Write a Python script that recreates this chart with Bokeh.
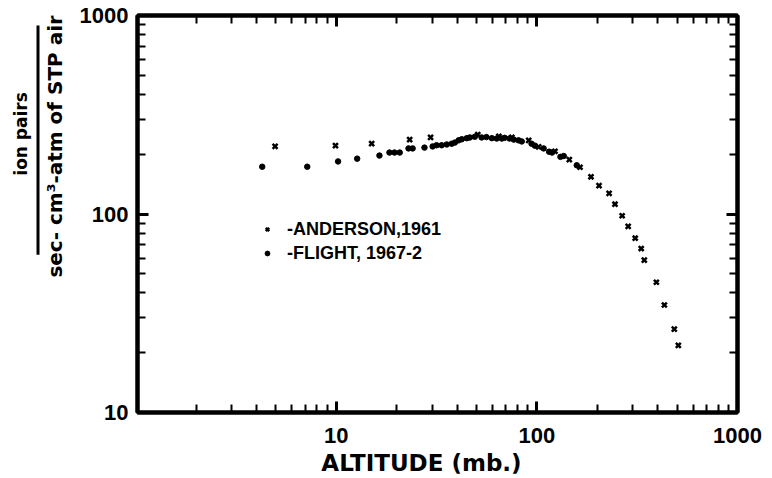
from bokeh.plotting import figure
from bokeh.layouts import row
from bokeh.models import (LogAxis, Label, BoxAnnotation, Legend, LegendItem,
                          FixedTicker, PrintfTickFormatter)
from bokeh.embed import file_html
from bokeh.resources import INLINE
import math

# ---- data ----
anderson_mb = [4.95, 9.9, 15.0, 23.2, 29.5, 50.7, 64.6, 75, 91, 102, 123, 145,
               164, 186, 204, 229, 245, 266, 285, 309, 331, 343, 394, 432, 484, 507]
anderson_rate = [219, 221, 226, 237, 243, 251, 246, 243, 235, 218, 207, 188,
                 172, 154, 139, 127, 112, 98, 86.6, 75.5, 67, 58.6, 45.3, 34.8, 26.3, 21.8]

flight_mb = [4.27, 7.16, 10.2, 12.7, 16.4, 18.4, 19.5, 20.7, 22.9, 24.0, 27.5, 30.2,
             31.6, 33.5, 35.5, 37.6, 39, 40.7, 42.2, 44.7, 46.3, 49, 53, 56, 59.6,
             63, 66.8, 69, 73, 76.7, 81, 84, 94, 97.7, 108, 115, 119, 131, 136, 158]
flight_rate = [173, 173, 184, 190, 197, 204, 204, 204, 214, 214, 216, 219,
               222, 222, 224, 226, 229, 235, 238, 241, 243, 245, 243, 244, 241,
               240, 240, 242, 240, 237, 235, 232, 226, 221, 214, 206, 204, 194, 196, 176]

x_lo, x_hi = 1.02, 1000
y_lo, y_hi = 10, 1000
x_major = [10, 100, 1000]
x_minor = [2, 3, 4, 5, 6, 7, 8, 9, 20, 30, 40, 50, 60, 70, 80, 90,
           200, 300, 400, 500, 600, 700, 800, 900]
y_major = [10, 100, 1000]
y_minor = [20, 30, 40, 50, 60, 70, 80, 90, 200, 300, 400, 500, 600, 700, 800, 900]

labels = ["-ANDERSON,1961", "-FLIGHT, 1967-2"]
x_title = "ALTITUDE (mb.)"
y_num = "ion  pairs"
y_den = "sec- cm\u00b3-atm  of  STP  air"

FONT_D = "Liberation Sans"
FONT_T = "DejaVu Sans"
H = 478
LW = 70           # width of the strip that holds the y title
MW = 772 - LW     # width of the main plot

# ---------- strip with the y-axis title (a fraction) ----------
side = figure(width=LW, height=H, x_range=(0, LW), y_range=(0, H),
              output_backend="svg", toolbar_location=None,
              x_axis_location=None, y_axis_location=None,
              min_border=0, min_border_left=0, min_border_right=0,
              min_border_top=0, min_border_bottom=0)
side.grid.visible = False
side.outline_line_color = None
side.background_fill_color = "white"
side.border_fill_color = "white"
side.add_layout(Label(x=20, y=H - 139, text=y_num, angle=math.pi / 2,
                      text_font=FONT_T, text_font_style="bold", text_font_size="17px",
                      text_color="black", text_align="center", text_baseline="middle"))
side.add_layout(Label(x=54, y=H - 145, text=y_den, angle=math.pi / 2,
                      text_font=FONT_T, text_font_style="bold", text_font_size="20px",
                      text_color="black", text_align="center", text_baseline="middle"))
side.add_layout(BoxAnnotation(left=36, right=39, top=H - 12, bottom=H - 288,
                              fill_color="black", fill_alpha=1, line_alpha=0))

# ---------- main plot ----------
p = figure(width=MW, height=H, x_axis_type="log", y_axis_type="log",
           x_range=(x_lo, x_hi), y_range=(y_lo, y_hi),
           output_backend="svg", toolbar_location=None,
           frame_width=600, frame_height=397,
           min_border_left=137 - LW, min_border_right=35, min_border_top=15, min_border_bottom=66)
p.grid.visible = False
p.outline_line_color = "black"
p.outline_line_width = 4
p.background_fill_color = "white"
p.border_fill_color = "white"

def style_axis(ax, show_labels):
    ax.axis_line_width = 4
    ax.axis_line_color = "black"
    ax.major_tick_in = 11
    ax.major_tick_out = 0
    ax.minor_tick_in = 8
    ax.minor_tick_out = 0
    ax.major_tick_line_width = 3
    ax.minor_tick_line_width = 2
    ax.major_tick_line_color = "black"
    ax.minor_tick_line_color = "black"
    ax.formatter = PrintfTickFormatter(format="%d")
    if show_labels:
        ax.major_label_text_font = FONT_D
        ax.major_label_text_font_style = "bold"
        ax.major_label_text_font_size = "22px"
        ax.major_label_text_color = "black"
    else:
        ax.major_label_text_font_size = "6px"
        ax.major_label_text_alpha = 0
        ax.major_label_standoff = 0

xt = FixedTicker(ticks=x_major, minor_ticks=x_minor)
yt = FixedTicker(ticks=y_major, minor_ticks=y_minor)

xa = p.xaxis[0]
ya = p.yaxis[0]
xa.ticker = xt
ya.ticker = yt
style_axis(xa, True)
style_axis(ya, True)
xa.major_label_standoff = 15
ya.major_label_standoff = 9
# nbsp padding on the right nudges the centred title slightly left, as in the original
xa.axis_label = x_title + "\u00a0" * 4
xa.axis_label_text_font = FONT_T
xa.axis_label_text_font_style = "bold"
xa.axis_label_text_font_size = "23px"
xa.axis_label_text_color = "black"
xa.axis_label_standoff = 4

top = LogAxis(ticker=xt)
right = LogAxis(ticker=yt)
style_axis(top, False)
style_axis(right, False)
p.add_layout(top, "above")
p.add_layout(right, "right")

ra = p.scatter(anderson_mb, anderson_rate, marker="x", size=7, line_width=2.5, color="black")
rf = p.scatter(flight_mb, flight_rate, marker="circle", size=5.5, color="black")

leg = Legend(items=[LegendItem(label=labels[0], renderers=[ra]),
                    LegendItem(label=labels[1], renderers=[rf])],
             location=(124, 147), glyph_width=12, glyph_height=24, label_height=24,
             label_standoff=14, spacing=0, padding=0, margin=0,
             background_fill_alpha=0, border_line_alpha=0,
             label_text_font=FONT_D, label_text_font_style="bold",
             label_text_font_size="18px", label_text_color="black")
p.add_layout(leg, "center")

layout = row(side, p, spacing=0)
open("out.html", "w").write(file_html(layout, INLINE))
